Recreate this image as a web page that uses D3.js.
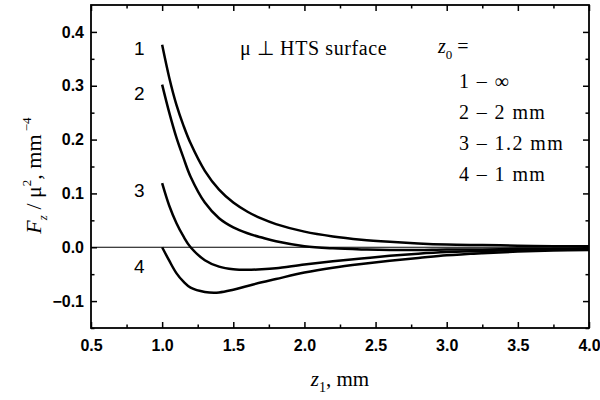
<!DOCTYPE html>
<html>
<head>
<meta charset="utf-8">
<script src="https://cdn.jsdelivr.net/npm/d3@7/dist/d3.min.js"></script>
<style>
	body { margin: 0; background: #fff; }
	.tick text { font-family: Arial, "Liberation Sans", sans-serif; fill: #000; }
	.serif { font-family: "Liberation Serif", "Times New Roman", serif; fill: #000; }
	.lbl { font-family: Arial, "Liberation Sans", sans-serif; font-size: 19px; fill: #000; }
</style>
</head>
<body>
<div id="chart"></div>
<script>
// z1 positions (mm)
var z1 = [1.0, 1.05, 1.1, 1.15, 1.2, 1.3, 1.4, 1.5, 1.6, 1.7, 1.8, 2.0, 2.2, 2.4, 2.6, 2.8, 3.0, 3.25, 3.5, 3.75, 4.0];
// Fz/mu^2 for each z0
var curve1 = [0.376, 0.315, 0.265, 0.226, 0.193, 0.142, 0.107, 0.083, 0.066, 0.053, 0.043, 0.029, 0.020, 0.014, 0.010, 0.007, 0.005, 0.004, 0.003, 0.002, 0.002];
var curve2 = [0.302, 0.250, 0.204, 0.166, 0.131, 0.083, 0.054, 0.037, 0.026, 0.018, 0.011, 0.002, -0.002, -0.004, -0.005, -0.005, -0.004, -0.004, -0.003, -0.003, -0.002];
var curve3 = [0.119, 0.077, 0.045, 0.020, 0.000, -0.024, -0.036, -0.041, -0.042, -0.041, -0.039, -0.032, -0.026, -0.021, -0.016, -0.012, -0.009, -0.007, -0.005, -0.004, -0.004];
var curve4 = [0.000, -0.025, -0.048, -0.064, -0.075, -0.083, -0.084, -0.079, -0.072, -0.065, -0.059, -0.047, -0.038, -0.031, -0.025, -0.020, -0.015, -0.011, -0.008, -0.006, -0.005];
var curveNames = ["1", "2", "3", "4"];
var legendLines = ["1 \u2013 \u221E", "2 \u2013 2 mm", "3 \u2013 1.2 mm", "4 \u2013 1 mm"];
var xTicks = [0.5, 1.0, 1.5, 2.0, 2.5, 3.0, 3.5, 4.0];
var yTicks = [-0.1, 0.0, 0.1, 0.2, 0.3, 0.4];

var width = 600, height = 400;
var margin = {left: 91, right: 11, top: 5, bottom: 72};

var svg = d3.select("#chart").append("svg")
	.attr("width", width)
	.attr("height", height);

var x = d3.scaleLinear().domain([0.5, 4.0]).range([margin.left, width - margin.right]);
var y = d3.scaleLinear().domain([-0.15, 0.45]).range([height - margin.bottom, margin.top]);

var x0 = x.range()[0], x1 = x.range()[1], yb = y.range()[0], yt = y.range()[1];

// minor ticks
var xMinor = d3.range(0.75, 4.0, 0.5);
var yMinor = d3.range(-0.15, 0.45, 0.1).map(function (d) { return +d.toFixed(2); });

function axisStyle(g) {
	g.select(".domain").remove();
	g.selectAll(".tick line").attr("stroke", "#000").attr("stroke-width", 1.5);
}

// bottom axis
svg.append("g")
	.attr("transform", "translate(0," + yb + ")")
	.call(d3.axisBottom(x).tickValues(xTicks).tickSize(-6).tickPadding(12).tickFormat(d3.format(".1f")))
	.call(axisStyle);
svg.append("g")
	.attr("transform", "translate(0," + yb + ")")
	.call(d3.axisBottom(x).tickValues(xMinor).tickSize(-3.5).tickFormat(""))
	.call(axisStyle);
// top axis
svg.append("g")
	.attr("transform", "translate(0," + yt + ")")
	.call(d3.axisTop(x).tickValues(xTicks).tickSize(-6).tickFormat(""))
	.call(axisStyle);
svg.append("g")
	.attr("transform", "translate(0," + yt + ")")
	.call(d3.axisTop(x).tickValues(xMinor).tickSize(-3.5).tickFormat(""))
	.call(axisStyle);
// left axis
svg.append("g")
	.attr("transform", "translate(" + x0 + ",0)")
	.call(d3.axisLeft(y).tickValues(yTicks).tickSize(-6).tickPadding(7).tickFormat(d3.format(".1f")))
	.call(axisStyle);
svg.append("g")
	.attr("transform", "translate(" + x0 + ",0)")
	.call(d3.axisLeft(y).tickValues(yMinor).tickSize(-3.5).tickFormat(""))
	.call(axisStyle);
// right axis
svg.append("g")
	.attr("transform", "translate(" + x1 + ",0)")
	.call(d3.axisRight(y).tickValues(yTicks).tickSize(-6).tickFormat(""))
	.call(axisStyle);
svg.append("g")
	.attr("transform", "translate(" + x1 + ",0)")
	.call(d3.axisRight(y).tickValues(yMinor).tickSize(-3.5).tickFormat(""))
	.call(axisStyle);

svg.selectAll(".tick text").attr("font-weight", "bold").style("font-size", "16px");

// frame
svg.append("rect")
	.attr("x", x0).attr("y", yt)
	.attr("width", x1 - x0).attr("height", yb - yt)
	.attr("fill", "none").attr("stroke", "#000").attr("stroke-width", 1.8);

// zero line
svg.append("line")
	.attr("x1", x0).attr("x2", x1)
	.attr("y1", y(0)).attr("y2", y(0))
	.attr("stroke", "#000").attr("stroke-width", 1.2);

// curves
var series = [curve1, curve2, curve3, curve4];
var line = d3.line()
	.x(function (d) { return x(d[0]); })
	.y(function (d) { return y(d[1]); })
	.curve(d3.curveCatmullRom.alpha(0.5));

svg.selectAll(".curve")
	.data(series)
	.enter()
	.append("path")
	.attr("class", "curve")
	.attr("d", function (s) { return line(d3.zip(z1, s)); })
	.attr("fill", "none")
	.attr("stroke", "#000")
	.attr("stroke-width", 2.5);

// curve numbers
var numY = [0.37, 0.285, 0.105, -0.035];
svg.selectAll(".num")
	.data(curveNames)
	.enter()
	.append("text")
	.attr("class", "lbl")
	.attr("x", x(0.84))
	.attr("y", function (d, i) { return y(numY[i]); })
	.attr("text-anchor", "middle")
	.attr("dy", "0.35em")
	.text(function (d) { return d; });

// annotation
svg.append("text")
	.attr("class", "serif")
	.attr("x", 240).attr("y", 55)
	.style("font-size", "20px")
	.attr("letter-spacing", "0.6")
	.text("\u03BC \u22A5 HTS surface");

var z0 = svg.append("text")
	.attr("class", "serif")
	.attr("x", 438).attr("y", 53)
	.style("font-size", "20px");
z0.append("tspan").attr("font-style", "italic").text("z");
z0.append("tspan").attr("dy", 6).style("font-size", "13px").text("0");
z0.append("tspan").attr("dy", -6).text(" =");

svg.selectAll(".leg")
	.data(legendLines)
	.enter()
	.append("text")
	.attr("class", "serif")
	.attr("x", 459)
	.attr("y", function (d, i) { return 88 + i * 31; })
	.style("font-size", "20px")
	.attr("letter-spacing", "1.4")
	.text(function (d) { return d; });

// x title
var xt = svg.append("text")
	.attr("class", "serif")
	.attr("x", 340).attr("y", 386)
	.attr("text-anchor", "middle")
	.style("font-size", "21px");
xt.append("tspan").attr("font-style", "italic").text("z");
xt.append("tspan").attr("dy", 6).style("font-size", "14px").text("1");
xt.append("tspan").attr("dy", -6).text(", mm");

// y title
var yTitle = svg.append("text")
	.attr("class", "serif")
	.attr("transform", "translate(41," + ((yt + yb) / 2 + 9) + ") rotate(-90)")
	.attr("text-anchor", "middle")
	.style("font-size", "22px");
yTitle.append("tspan").attr("font-style", "italic").text("F");
yTitle.append("tspan").attr("font-style", "italic").attr("dy", 6).style("font-size", "13px").text("z");
yTitle.append("tspan").attr("dy", -6).text(" / \u03BC");
yTitle.append("tspan").attr("dy", -10).style("font-size", "13px").text("2");
yTitle.append("tspan").attr("dy", 10).text(", mm");
yTitle.append("tspan").attr("dy", -10).style("font-size", "13px").text(" \u22124");
</script>
</body>
</html>
